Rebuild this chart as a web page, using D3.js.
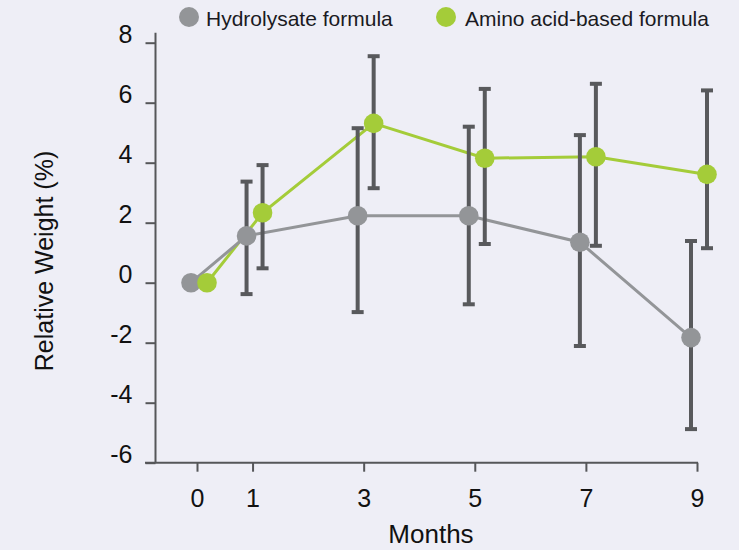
<!DOCTYPE html>
<html>
<head>
<meta charset="utf-8">
<script src="https://cdn.jsdelivr.net/npm/d3@7"></script>
<style>
  html, body { margin: 0; padding: 0; background: #eeeef6; }
  svg { display: block; font-family: "Liberation Sans", Arial, sans-serif; }
</style>
</head>
<body>
<svg id="chart" width="739" height="550"></svg>
<script>
// ---- data ----
const months = [0, 1, 3, 5, 7, 9];
const yTicks = [-6, -4, -2, 0, 2, 4, 6, 8];
const seriesNames = ["Hydrolysate formula", "Amino acid-based formula"];
const hydroMean = [0, 1.56, 2.23, 2.23, 1.35, -1.83];
const hydroLow  = [null, -0.38, -0.98, -0.72, -2.11, -4.88];
const hydroHigh = [null, 3.37, 5.15, 5.2, 4.92, 1.39];
const aminoMean = [0, 2.33, 5.31, 4.15, 4.2, 3.61];
const aminoLow  = [null, 0.48, 3.15, 1.29, 1.23, 1.15];
const aminoHigh = [null, 3.92, 7.55, 6.46, 6.63, 6.41];

// ---- layout ----
const svg = d3.select("#chart");
const W = 739, H = 550;
svg.append("rect").attr("width", W).attr("height", H).attr("fill", "#eeeef6");

const x = d3.scaleLinear().domain([0, 9]).range([197, 697]);
const y = d3.scaleLinear().domain([-6, 8]).range([462.7, 42.7]);
const axisColor = "#555659";
const barColor = "#58595c";
const grayColor = "#939598";
const greenColor = "#a4cc39";

const series = [
  { name: seriesNames[0], mean: hydroMean, low: hydroLow, high: hydroHigh, color: grayColor, dx: -6 },
  { name: seriesNames[1], mean: aminoMean, low: aminoLow, high: aminoHigh, color: greenColor, dx: 10 }
];

// ---- axes ----
const yAxisX = 155.5, xAxisY = 462.7;
const yAxis = svg.append("g").attr("transform", `translate(${yAxisX},0)`)
  .call(d3.axisLeft(y).tickValues(yTicks).tickSize(10).tickPadding(13).tickFormat(d => String(d)));
yAxis.select(".domain").remove();
yAxis.selectAll(".tick line").attr("stroke", axisColor).attr("stroke-width", 2);
yAxis.selectAll(".tick text").attr("font-size", 25).attr("fill", "#111").attr("dy", 0)
  .attr("font-family", "Liberation Sans, Arial, sans-serif");
svg.append("line").attr("x1", yAxisX).attr("x2", yAxisX).attr("y1", xAxisY).attr("y2", 32.7)
  .attr("stroke", axisColor).attr("stroke-width", 2);

const xAxis = svg.append("g").attr("transform", `translate(0,${xAxisY})`)
  .call(d3.axisBottom(x).tickValues(months).tickSize(9).tickFormat(d => String(d)));
xAxis.select(".domain").remove();
xAxis.selectAll(".tick line").attr("stroke", axisColor).attr("stroke-width", 2);
xAxis.selectAll(".tick text").attr("font-size", 25).attr("fill", "#111").attr("y", 44).attr("dy", 0)
  .attr("font-family", "Liberation Sans, Arial, sans-serif");
svg.append("line").attr("x1", 145).attr("x2", x(9) + 1).attr("y1", xAxisY).attr("y2", xAxisY)
  .attr("stroke", axisColor).attr("stroke-width", 2);

// axis titles
svg.append("text").attr("x", 431).attr("y", 543).attr("text-anchor", "middle")
  .attr("font-size", 26).attr("fill", "#111").text("Months");
svg.append("text").attr("transform", "translate(53,261) rotate(-90)").attr("text-anchor", "middle")
  .attr("font-size", 25).attr("fill", "#111").text("Relative Weight (%)");

// ---- lines ----
const lineGen = (s) => d3.line().x((d, i) => x(months[i]) + s.dx).y(d => y(d));
[series[1], series[0]].forEach(s => {
  svg.append("path").datum(s.mean).attr("d", lineGen(s)).attr("fill", "none")
    .attr("stroke", s.color).attr("stroke-width", 3);
});

// ---- error bars ----
series.forEach(s => {
  const g = svg.append("g");
  months.forEach((m, i) => {
    if (s.low[i] === null) return;
    const cx = x(m) + s.dx;
    g.append("line").attr("x1", cx).attr("x2", cx).attr("y1", y(s.low[i])).attr("y2", y(s.high[i]))
      .attr("stroke", barColor).attr("stroke-width", 4);
    [s.low[i], s.high[i]].forEach(v => {
      g.append("line").attr("x1", cx - 6).attr("x2", cx + 6).attr("y1", y(v)).attr("y2", y(v))
        .attr("stroke", barColor).attr("stroke-width", 4);
    });
  });
});

// ---- markers ----
series.forEach(s => {
  svg.append("g").selectAll("circle").data(s.mean).join("circle")
    .attr("cx", (d, i) => x(months[i]) + s.dx).attr("cy", d => y(d)).attr("r", 9.8)
    .attr("fill", s.color);
});

// ---- legend ----
const legendPos = [{ cx: 189, tx: 206 }, { cx: 446, tx: 465 }];
series.forEach((s, i) => {
  svg.append("circle").attr("cx", legendPos[i].cx).attr("cy", 17).attr("r", 10).attr("fill", s.color);
  svg.append("text").attr("x", legendPos[i].tx).attr("y", 26).attr("font-size", 21)
    .attr("fill", "#1a1a22").text(s.name);
});
</script>
</body>
</html>
